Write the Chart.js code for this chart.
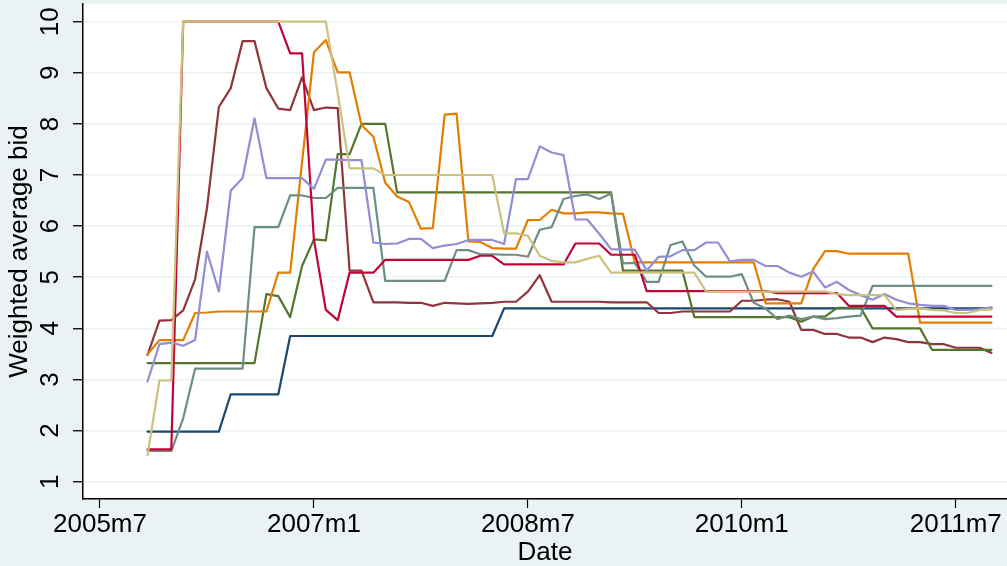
<!DOCTYPE html>
<html><head><meta charset="utf-8">
<script src="https://cdn.jsdelivr.net/npm/chart.js@4.4.1/dist/chart.umd.min.js"></script>
<style>html,body{margin:0;padding:0;background:#eaf2f3;}#wrap{width:1007px;height:566px;}</style>
</head><body>
<div id="wrap"><canvas id="c" width="1007" height="566"></canvas></div>
<script>
const dates = ["2005m11","2005m12",
"2006m1","2006m2","2006m3","2006m4","2006m5","2006m6","2006m7","2006m8","2006m9","2006m10","2006m11","2006m12",
"2007m1","2007m2","2007m3","2007m4","2007m5","2007m6","2007m7","2007m8","2007m9","2007m10","2007m11","2007m12",
"2008m1","2008m2","2008m3","2008m4","2008m5","2008m6","2008m7","2008m8","2008m9","2008m10","2008m11","2008m12",
"2009m1","2009m2","2009m3","2009m4","2009m5","2009m6","2009m7","2009m8","2009m9","2009m10","2009m11","2009m12",
"2010m1","2010m2","2010m3","2010m4","2010m5","2010m6","2010m7","2010m8","2010m9","2010m10","2010m11","2010m12",
"2011m1","2011m2","2011m3","2011m4","2011m5","2011m6","2011m7","2011m8","2011m9","2011m10"];

const navy = [1.98,1.98,
1.98,1.98,1.98,1.98,1.98,2.71,2.71,2.71,2.71,2.71,3.85,3.85,
3.85,3.85,3.85,3.85,3.85,3.85,3.85,3.85,3.85,3.85,3.85,3.85,
3.85,3.85,3.85,3.85,4.39,4.39,4.39,4.39,4.39,4.39,4.39,4.39,
4.39,4.39,4.39,4.39,4.39,4.39,4.39,4.39,4.39,4.39,4.39,4.39,
4.39,4.39,4.39,4.39,4.39,4.39,4.39,4.39,4.39,4.39,4.39,4.39,
4.39,4.39,4.39,4.39,4.39,4.39,4.39,4.39,4.39,4.39];

const maroon = [3.48,4.15,
4.16,4.35,4.96,6.35,8.33,8.70,9.62,9.62,8.70,8.30,8.27,8.91,
8.27,8.32,8.31,5.13,5.13,4.51,4.51,4.51,4.50,4.50,4.44,4.50,
4.49,4.48,4.49,4.50,4.52,4.52,4.72,5.04,4.52,4.52,4.52,4.52,
4.52,4.51,4.51,4.51,4.51,4.30,4.30,4.33,4.33,4.33,4.33,4.33,
4.54,4.54,4.56,4.57,4.52,3.97,3.97,3.89,3.89,3.82,3.82,3.73,
3.82,3.79,3.73,3.73,3.69,3.69,3.62,3.62,3.62,3.52];

const green = [3.32,3.32,
3.32,3.32,3.32,3.32,3.32,3.32,3.32,3.32,4.67,4.63,4.22,5.22,
5.74,5.72,7.41,7.41,8.00,8.00,8.00,6.66,6.66,6.66,6.66,6.66,
6.66,6.66,6.66,6.66,6.66,6.66,6.66,6.66,6.66,6.66,6.66,6.66,
6.66,6.66,5.13,5.13,5.13,5.13,5.13,5.13,4.22,4.22,4.22,4.22,
4.22,4.22,4.22,4.22,4.22,4.13,4.23,4.23,4.40,4.40,4.40,4.00,
4.00,4.00,4.00,4.00,3.58,3.58,3.58,3.58,3.58,3.58];

const orange = [3.49,3.77,
3.77,3.77,4.30,4.31,4.33,4.33,4.33,4.33,4.33,5.09,5.09,7.25,
9.40,9.64,9.01,9.01,7.98,7.75,6.85,6.58,6.47,5.95,5.96,8.18,
8.20,5.70,5.69,5.57,5.56,5.56,6.12,6.12,6.32,6.25,6.25,6.27,
6.27,6.25,6.24,5.29,5.29,5.29,5.29,5.29,5.29,5.29,5.29,5.29,
5.29,5.29,4.49,4.49,4.49,4.49,5.16,5.51,5.51,5.46,5.46,5.46,
5.46,5.46,5.46,4.11,4.11,4.11,4.11,4.11,4.11,4.11];

const teal = [1.60,1.60,
1.60,2.24,3.21,3.21,3.21,3.21,3.21,5.98,5.98,5.98,6.60,6.60,
6.55,6.55,6.75,6.75,6.75,6.75,4.93,4.93,4.93,4.93,4.93,4.93,
5.53,5.53,5.45,5.45,5.44,5.44,5.40,5.93,5.98,6.53,6.59,6.62,
6.53,6.64,5.27,5.28,4.91,4.91,5.63,5.70,5.23,5.01,5.01,5.01,
5.06,4.50,4.39,4.18,4.25,4.18,4.23,4.18,4.20,4.23,4.25,4.83,
4.83,4.83,4.83,4.83,4.83,4.83,4.83,4.83,4.83,4.83];

const cranberry = [1.63,1.63,
1.63,10,10,10,10,10,10,10,10,10,9.38,9.38,
5.73,4.36,4.16,5.09,5.09,5.09,5.34,5.34,5.34,5.34,5.34,5.34,
5.34,5.34,5.42,5.42,5.25,5.25,5.25,5.25,5.25,5.25,5.66,5.66,
5.66,5.44,5.44,5.44,4.73,4.73,4.73,4.73,4.73,4.73,4.73,4.73,
4.73,4.73,4.73,4.69,4.69,4.69,4.69,4.69,4.69,4.44,4.44,4.44,
4.44,4.23,4.23,4.23,4.23,4.23,4.23,4.23,4.23,4.23];

const lavender = [2.96,3.69,
3.72,3.66,3.77,5.50,4.72,6.69,6.94,8.11,6.94,6.94,6.94,6.94,
6.73,7.30,7.30,7.29,7.29,5.68,5.65,5.66,5.75,5.75,5.57,5.62,
5.65,5.73,5.73,5.73,5.65,6.92,6.92,7.56,7.44,7.39,6.13,6.13,
5.85,5.55,5.54,5.54,5.13,5.40,5.41,5.53,5.53,5.68,5.68,5.31,
5.34,5.34,5.22,5.22,5.09,5.01,5.11,4.80,4.91,4.75,4.65,4.56,
4.67,4.56,4.49,4.46,4.44,4.44,4.36,4.36,4.37,4.41];

const khaki = [1.52,2.98,
2.98,10,10,10,10,10,10,10,10,10,10,10,
10,10,8.6,7.13,7.13,7.13,7.00,7.00,7.00,7.00,7.00,7.00,
7.00,7.00,7.00,7.00,5.86,5.86,5.81,5.42,5.32,5.29,5.29,5.36,
5.42,5.09,5.09,5.09,5.09,5.09,5.09,5.09,5.09,4.72,4.72,4.72,
4.72,4.72,4.72,4.72,4.72,4.72,4.72,4.72,4.67,4.65,4.65,4.65,
4.65,4.36,4.38,4.39,4.36,4.35,4.30,4.30,4.36,4.37];

const xTickLabels = ["2005m7","2007m1","2008m7","2010m1","2011m7"];
const yTickValues = [1,2,3,4,5,6,7,8,9,10];
const seriesColors = ["#1a476f","#90353b","#55752f","#e37e00","#6e8e84","#c10534","#938dd2","#cac27e"];
const seriesList = [navy, maroon, green, orange, teal, cranberry, lavender, khaki];

function monthIndex(s){ const p = s.split("m"); return (Number(p[0]) - 2005) * 12 + (Number(p[1]) - 7); }

const FONT = "'Liberation Sans', Arial, Helvetica, sans-serif";

const bgPlugin = {
  id: "bg",
  beforeDraw(chart){
    const {ctx, chartArea: a} = chart;
    ctx.save();
    ctx.fillStyle = "#eaf2f3";
    ctx.fillRect(0, 0, chart.width, chart.height);
    ctx.fillStyle = "#ffffff";
    ctx.fillRect(a.left, a.top, a.right - a.left, a.bottom - a.top);
    ctx.restore();
  }
};

const datasets = seriesList.map((s, i) => ({
  data: dates.map((d, j) => ({x: monthIndex(d), y: s[j]})),
  borderColor: seriesColors[i],
  backgroundColor: seriesColors[i],
  borderWidth: 2.2,
  pointRadius: 0,
  pointHoverRadius: 0,
  fill: false,
  tension: 0,
  borderJoinStyle: "round",
  borderCapStyle: "round",
  order: seriesList.length - 1 - i
}));

new Chart(document.getElementById("c"), {
  type: "line",
  data: { datasets },
  plugins: [bgPlugin],
  options: {
    responsive: false,
    animation: false,
    devicePixelRatio: 1,
    layout: { padding: { top: 4, right: 0, bottom: 0, left: 0 } },
    plugins: { legend: { display: false }, tooltip: { enabled: false } },
    scales: {
      x: {
        type: "linear",
        min: -1.43,
        max: 76.31,
        afterBuildTicks: s => { s.ticks = xTickLabels.map(l => ({ value: monthIndex(l) })); },
        afterFit: s => { s.height = 67; s.paddingLeft = 0; s.paddingRight = 0; },
        ticks: {
          autoSkip: false, maxRotation: 0, minRotation: 0, padding: 1, color: "#000",
          font: { family: FONT, size: 26 },
          callback: v => { const i = xTickLabels.findIndex(l => monthIndex(l) === v); return i >= 0 ? xTickLabels[i] : ""; }
        },
        grid: { display: true, drawOnChartArea: false, color: "rgba(0,0,0,0)", drawTicks: true, tickLength: 9, tickColor: "#000", tickWidth: 1.2 },
        border: { display: true, color: "#000", width: 1.5 },
        title: { display: true, text: "Date", color: "#000", font: { family: FONT, size: 26, lineHeight: 1 }, padding: { top: 0, bottom: 0 } }
      },
      y: {
        type: "linear",
        min: 0.661,
        max: 10.346,
        afterBuildTicks: s => { s.ticks = yTickValues.map(v => ({ value: v })); },
        afterFit: s => { s.width = 83; s.paddingTop = 0; s.paddingBottom = 0; },
        ticks: {
          autoSkip: false, minRotation: 90, maxRotation: 90, crossAlign: "center", padding: 8, color: "#000",
          font: { family: FONT, size: 26 },
          callback: v => String(v)
        },
        grid: { display: true, color: "#eaf2f3", lineWidth: 1.5, drawTicks: true, tickLength: 10, tickColor: "#000", tickWidth: 1.3 },
        border: { display: true, color: "#000", width: 1.5 },
        title: { display: true, text: "Weighted average bid", color: "#000", font: { family: FONT, size: 26, lineHeight: 1 }, padding: { top: 6.5, bottom: 0 } }
      }
    }
  }
});
</script>
</body></html>
